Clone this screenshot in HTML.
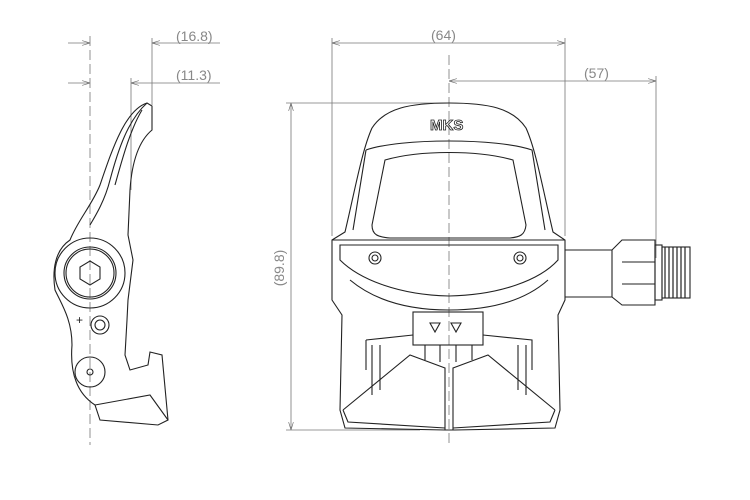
<!DOCTYPE html>
<html><head><style>
html,body{margin:0;padding:0;background:#fff;}
svg{display:block}
text{font-family:"Liberation Sans",sans-serif;fill:#888;}
</style></head><body>
<svg width="750" height="500" viewBox="0 0 750 500" xmlns="http://www.w3.org/2000/svg">
<defs>
<marker id="a" viewBox="0 0 10 6" refX="10" refY="3" markerWidth="10" markerHeight="6" orient="auto-start-reverse"><path d="M0,0 L10,3 L0,6" fill="none" stroke="#666" stroke-width="0.8"/></marker>
</defs>
<g stroke="#777" stroke-width="0.8" fill="none">
<line x1="68" y1="43" x2="90" y2="43" marker-end="url(#a)"/>
<line x1="152" y1="43" x2="220" y2="43" marker-start="url(#a)"/>
<line x1="68" y1="83" x2="90" y2="83" marker-end="url(#a)"/>
<line x1="131" y1="83" x2="220" y2="83" marker-start="url(#a)"/>
<line x1="152" y1="38" x2="152" y2="105"/>
<line x1="131" y1="78" x2="131" y2="190"/>
<line x1="90" y1="36" x2="90" y2="445" stroke-dasharray="10,4"/>
<line x1="332" y1="43" x2="565" y2="43" marker-start="url(#a)" marker-end="url(#a)"/>
<line x1="332" y1="38" x2="332" y2="236"/>
<line x1="565" y1="38" x2="565" y2="236"/>
<line x1="449" y1="81" x2="656" y2="81" marker-start="url(#a)" marker-end="url(#a)"/>
<line x1="656" y1="76" x2="656" y2="258"/>
<line x1="291" y1="103" x2="291" y2="430" marker-start="url(#a)" marker-end="url(#a)"/>
<line x1="286" y1="103" x2="450" y2="103"/>
<line x1="286" y1="430" x2="420" y2="430"/>
<line x1="449" y1="55" x2="449" y2="445" stroke-dasharray="10,4"/>
</g>
<text x="176" y="41" font-size="14">(16.8)</text>
<text x="176" y="80" font-size="14">(11.3)</text>
<text x="431" y="40" font-size="14">(64)</text>
<text x="584" y="78" font-size="14">(57)</text>
<text x="284" y="268" font-size="14" transform="rotate(-90 284 268)" text-anchor="middle">(89.8)</text>

<g stroke="#222" stroke-width="1.1" fill="none">
<path d="M147,103 C125,110 112,150 100,185 C92,205 78,220 70,240 C55,250 52,270 55,290 C62,305 72,320 72,345 C70,370 75,392 95,405 L100,420 L158,425 L168,420 L162,355 L150,352 L148,365 L130,370 L125,355 L127,320 L128,300 L133,260 L128,235 L130,190 C132,160 140,140 152,130 L152,106 Z"/>
<path d="M147,103 C128,120 118,150 110,180 C105,200 96,215 90,225"/>
<path d="M142,110 C130,130 122,160 115,185"/>
<circle cx="90" cy="273" r="35"/>
<circle cx="90" cy="273" r="26"/>
<circle cx="90" cy="273" r="24"/>
<polygon points="90,261 100,267 100,279 90,285 80,279 80,267"/>
<circle cx="100" cy="325" r="9"/>
<circle cx="100" cy="325" r="5"/>
<circle cx="90" cy="372" r="15"/>
<circle cx="90" cy="372" r="3"/>
<path d="M95,405 L150,395 L168,420"/>
<path d="M332,240 L345,232 C355,190 362,150 372,128 C385,108 410,103 449,103 C488,103 513,108 526,128 C536,150 543,190 553,232 L565,240 L565,300 L558,315 L560,410 L555,428 L455,430 L445,430 L345,428 L340,410 L342,315 L332,300 Z"/>
<path d="M366,150 C400,138 498,138 532,150 L545,230 M366,150 L353,230"/>
<path d="M385,160 C420,150 478,150 513,160 L526,225 C525,235 520,237 510,238 L390,238 C378,237 372,235 372,225 Z"/>
<path d="M332,240 L565,240"/>
<path d="M340,245 L558,245 L558,260 C540,280 500,295 449,296 C400,295 360,280 340,260 Z"/>
<circle cx="375" cy="258" r="6"/><circle cx="375" cy="258" r="3"/>
<circle cx="520" cy="258" r="6"/><circle cx="520" cy="258" r="3"/>
<path d="M350,280 C380,305 420,310 449,310 C480,310 520,305 548,280"/>
<rect x="413" y="312" width="70" height="33"/>
<path d="M430,323 L440,323 L435,332 Z M451,323 L461,323 L456,332 Z"/>
<path d="M366,340 L413,335 M483,335 L532,340 L532,370 M366,340 L366,370"/>
<path d="M343,410 L410,355 L445,368 L445,430 M343,410 L348,422 L445,428"/>
<path d="M555,410 L488,355 L453,368 L453,430 M555,410 L550,422 L453,428"/>
<path d="M372,345 L372,395 M380,345 L380,390 M518,345 L518,390 M526,345 L526,395"/>
<path d="M425,345 L425,360 M440,345 L440,362 M456,345 L456,362 M472,345 L472,360"/>
<path d="M565,250 L612,250 L622,240 L655,240 L655,305 L622,305 L612,297 L565,297"/>
<line x1="612" y1="250" x2="612" y2="297"/>
<line x1="622" y1="262" x2="655" y2="262"/><line x1="622" y1="284" x2="655" y2="284"/>
<rect x="655" y="245" width="7" height="55"/>
<rect x="662" y="247" width="28" height="51"/>
</g>
<g stroke="#222" stroke-width="1.2">
<line x1="665" y1="247" x2="665" y2="298"/><line x1="669" y1="247" x2="669" y2="298"/><line x1="673" y1="247" x2="673" y2="298"/><line x1="677" y1="247" x2="677" y2="298"/><line x1="681" y1="247" x2="681" y2="298"/><line x1="685" y1="247" x2="685" y2="298"/>
</g>
<text x="430" y="130" font-size="15" font-weight="bold" style="fill:none;stroke:#222;stroke-width:0.8">MKS</text>
<text x="76" y="324" font-size="12" style="fill:#222">+</text>
</svg>
</body></html>
